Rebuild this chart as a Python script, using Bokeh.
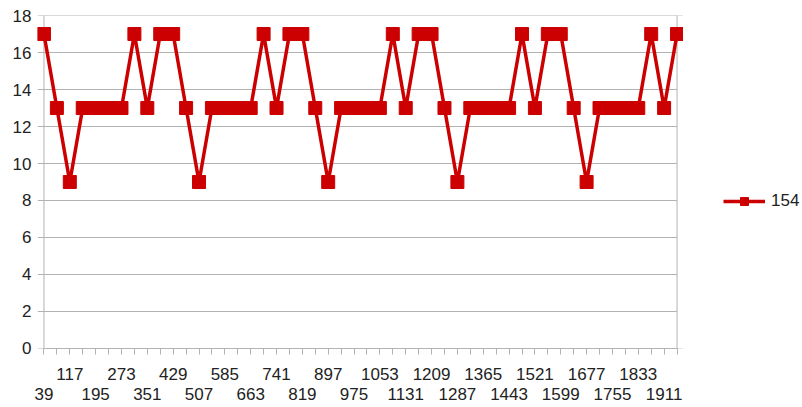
from bokeh.plotting import figure
from bokeh.layouts import row
from bokeh.models import (Range1d, FixedTicker, LinearAxis, Legend, LegendItem,
                          Span, BoxAnnotation)
from bokeh.embed import file_html
from bokeh.resources import INLINE

categories = [39, 78, 117, 156, 195, 234, 273, 312, 351, 390,
              429, 468, 507, 546, 585, 624, 663, 702, 741, 780,
              819, 858, 897, 936, 975, 1014, 1053, 1092, 1131, 1170,
              1209, 1248, 1287, 1326, 1365, 1404, 1443, 1482, 1521, 1560,
              1599, 1638, 1677, 1716, 1755, 1794, 1833, 1872, 1911, 1950]
values_154 = [17, 13, 9, 13, 13, 13, 13, 17, 13, 17,
              17, 13, 9, 13, 13, 13, 13, 17, 13, 17,
              17, 13, 9, 13, 13, 13, 13, 17, 13, 17,
              17, 13, 9, 13, 13, 13, 13, 17, 13, 17,
              17, 13, 9, 13, 13, 13, 13, 17, 13, 17]
series_name = "154"
y_ticks = [0, 2, 4, 6, 8, 10, 12, 14, 16, 18]

RED = "#CC0000"
GRID = "#b3b3b3"
TXT = "#222222"
FONT = "Liberation Sans"
FS = "17px"

idx = list(range(len(categories)))
first, last = idx[0], idx[-1]
pad = 0.5

p = figure(width=683, height=407, output_backend="svg", toolbar_location=None,
           x_range=Range1d(first - pad, last + pad),
           y_range=Range1d(y_ticks[0] - 0.001, y_ticks[-1] + 0.001),
           min_border_left=37, min_border_right=0, min_border_top=15, min_border_bottom=59)
p.outline_line_color = None
p.background_fill_color = "white"
p.border_fill_color = "white"

# y axis (labels only; grid lines reach out past the axis line like tick marks)
p.yaxis.ticker = FixedTicker(ticks=y_ticks)
p.yaxis.axis_line_color = None
p.yaxis.major_tick_line_color = None
p.yaxis.major_tick_out = 0
p.yaxis.major_tick_in = 0
p.yaxis.minor_tick_line_color = None
p.yaxis.major_label_standoff = 6
p.yaxis.major_label_text_font = FONT
p.yaxis.major_label_text_font_size = FS
p.yaxis.major_label_text_color = TXT
p.ygrid.ticker = FixedTicker(ticks=y_ticks)
p.ygrid.grid_line_color = GRID
p.xgrid.grid_line_color = None

# hide grid beyond the right border, then draw the two vertical borders
p.add_layout(BoxAnnotation(left=last, fill_color="white", fill_alpha=1.0,
                           line_color=None, level="underlay"))
p.add_layout(Span(location=first, dimension="height", line_color=GRID,
                  line_width=1, level="underlay"))
p.add_layout(Span(location=last, dimension="height", line_color=GRID,
                  line_width=1, level="underlay"))

# x axis, upper row of labels
xa = p.xaxis[0]
xa.bounds = (first, last)
xa.ticker = FixedTicker(ticks=idx)
xa.major_label_overrides = {i: (str(categories[i]) if i % 4 == 2 else "") for i in idx}
xa.axis_line_color = GRID
xa.major_tick_line_color = GRID
xa.major_tick_out = 6
xa.major_tick_in = 0
xa.minor_tick_line_color = None
xa.major_label_standoff = 13
xa.major_label_text_font = FONT
xa.major_label_text_font_size = FS
xa.major_label_text_color = TXT

# x axis, lower row of labels
low = [i for i in idx if i % 4 == 0]
xb = LinearAxis(ticker=FixedTicker(ticks=low))
xb.major_label_overrides = {i: str(categories[i]) for i in low}
xb.axis_line_color = None
xb.major_tick_line_color = None
xb.minor_tick_line_color = None
xb.major_tick_out = 0
xb.major_tick_in = 0
xb.major_label_standoff = 5
xb.major_label_text_font = FONT
xb.major_label_text_font_size = FS
xb.major_label_text_color = TXT
p.add_layout(xb, "below")

p.line(idx, values_154, line_color=RED, line_width=3.5)
p.scatter(idx, values_154, marker="square", size=13, fill_color=RED, line_color=RED)

# legend panel (same series, its data lies outside this panel's ranges)
lg = figure(width=119, height=407, output_backend="svg", toolbar_location=None,
            x_axis_type=None, y_axis_type=None,
            x_range=Range1d(0, len(categories) - 1), y_range=Range1d(100, 118),
            min_border=0)
lg.outline_line_color = None
lg.background_fill_color = "white"
lg.border_fill_color = "white"
l_line = lg.line(idx, values_154, line_color=RED, line_width=3.5)
l_pts = lg.scatter(idx, values_154, marker="square", size=13, fill_color=RED, line_color=RED)
legend = Legend(items=[LegendItem(label=series_name, renderers=[l_line, l_pts])],
                location=(40, 137), orientation="vertical",
                glyph_width=42, glyph_height=20, label_standoff=6,
                padding=0, margin=0, spacing=0,
                border_line_color=None, background_fill_alpha=0,
                label_text_font=FONT, label_text_font_size=FS, label_text_color=TXT)
lg.add_layout(legend, "center")

layout = row(p, lg)
open("out.html", "w").write(file_html(layout, INLINE))
